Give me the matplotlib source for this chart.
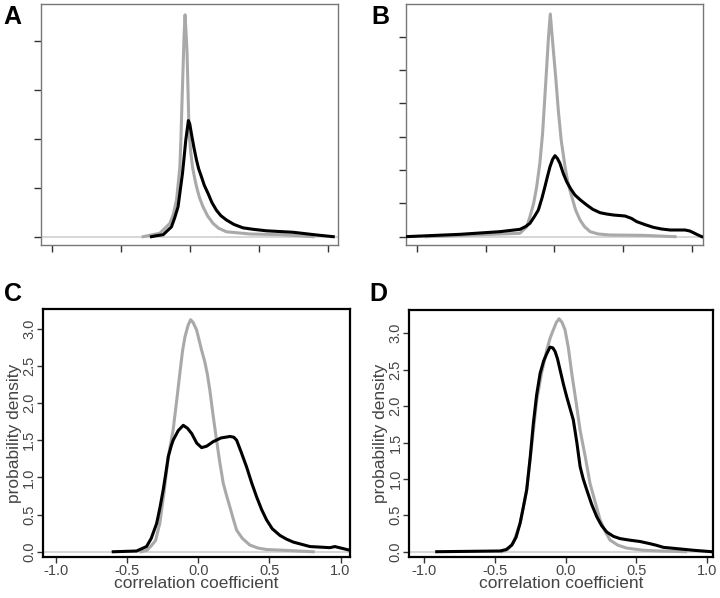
import matplotlib
matplotlib.use("Agg")
import matplotlib.pyplot as plt

plt.rcParams['font.family'] = ['Liberation Sans', 'DejaVu Sans']

# panel A (y in tick units, no labels shown)
a_gray_x = [-0.338, -0.217, -0.145, -0.12, -0.096, -0.085, -0.072, -0.064, -0.056, -0.048,
            -0.041, -0.034, -0.020, -0.012, -0.005, 0.008, 0.020, 0.035, 0.049, 0.07,
            0.096, 0.13, 0.169, 0.21, 0.266, 0.435, 0.676, 0.893]
a_gray_y = [0.0, 0.07, 0.27, 0.45, 0.75, 1.05, 1.42, 2.0, 2.78, 3.5,
            4.13, 4.53, 3.79, 2.9, 2.1, 1.7, 1.42, 1.2, 1.02, 0.8,
            0.61, 0.42, 0.27, 0.17, 0.10, 0.055, 0.04, 0.0]
a_black_x = [-0.278, -0.24, -0.193, -0.133, -0.11, -0.085, -0.069, -0.053, -0.04, -0.029,
             -0.018, -0.010, 0.0, 0.012, 0.03, 0.049, 0.065, 0.085, 0.105, 0.133,
             0.16, 0.193, 0.225, 0.266, 0.32, 0.386, 0.46, 0.556, 0.749, 0.918, 1.04]
a_black_y = [0.0, 0.02, 0.04, 0.20, 0.38, 0.61, 0.95, 1.29, 1.65, 1.97,
             2.2, 2.37, 2.3, 2.10, 1.82, 1.56, 1.38, 1.22, 1.05, 0.88,
             0.7, 0.54, 0.43, 0.34, 0.25, 0.18, 0.15, 0.12, 0.09, 0.035, 0.0]

# panel B
b_gray_x = [-0.93, -0.25, -0.2, -0.177, -0.15, -0.128, -0.105, -0.085, -0.07, -0.055,
            -0.042, -0.029, -0.007, 0.01, 0.029, 0.05, 0.078, 0.1, 0.127, 0.155,
            0.187, 0.22, 0.26, 0.32, 0.405, 0.647, 0.878]
b_gray_y = [0.0, 0.10, 0.3, 0.6, 1.0, 1.5, 2.2, 3.1, 4.1, 5.1,
            6.0, 6.68, 5.6, 4.8, 3.8, 2.9, 2.1, 1.6, 1.2, 0.8,
            0.5, 0.3, 0.15, 0.08, 0.05, 0.04, 0.0]
b_black_x = [-1.08, -0.686, -0.395, -0.25, -0.21, -0.177, -0.145, -0.116, -0.09, -0.068,
             -0.05, -0.031, -0.012, 0.005, 0.022, 0.041, 0.065, 0.09, 0.12, 0.15,
             0.19, 0.236, 0.28, 0.332, 0.38, 0.429, 0.514, 0.56, 0.60, 0.66,
             0.72, 0.78, 0.842, 0.9, 0.95, 0.985, 1.011, 1.04, 1.072]
b_black_y = [0.0, 0.07, 0.15, 0.22, 0.3, 0.40, 0.6, 0.80, 1.15, 1.50,
             1.8, 2.10, 2.32, 2.43, 2.35, 2.20, 1.9, 1.65, 1.43, 1.25,
             1.1, 0.95, 0.82, 0.72, 0.68, 0.65, 0.62, 0.55, 0.45, 0.36,
             0.28, 0.23, 0.20, 0.2, 0.20, 0.17, 0.12, 0.06, 0.0]

# panel C
c_gray_x = [-0.40, -0.36, -0.33, -0.30, -0.27, -0.24, -0.21, -0.176, -0.15, -0.129,
            -0.11, -0.093, -0.07, -0.053, -0.035, -0.011, 0.024, 0.047, 0.065, 0.082,
            0.105, 0.129, 0.152, 0.176, 0.2, 0.223, 0.245, 0.27, 0.31, 0.363,
            0.42, 0.48, 0.6, 0.808]
c_gray_y = [0.0, 0.02, 0.08, 0.15, 0.38, 0.8, 1.28, 1.64, 2.05, 2.40,
            2.7, 2.89, 3.05, 3.12, 3.08, 2.98, 2.71, 2.55, 2.38, 2.17,
            1.83, 1.50, 1.2, 0.92, 0.75, 0.60, 0.45, 0.29, 0.18, 0.09,
            0.05, 0.03, 0.02, 0.0]
c_black_x = [-0.597, -0.433, -0.363, -0.33, -0.292, -0.268, -0.246, -0.228, -0.21, -0.19,
             -0.176, -0.14, -0.105, -0.075, -0.046, -0.01, 0.024, 0.06, 0.105, 0.16,
             0.223, 0.25, 0.27, 0.3, 0.34, 0.375, 0.41, 0.445, 0.48, 0.52,
             0.574, 0.62, 0.668, 0.785, 0.926, 0.96, 1.066]
c_black_y = [0.0, 0.01, 0.07, 0.18, 0.38, 0.6, 0.83, 1.05, 1.28, 1.42,
             1.50, 1.63, 1.70, 1.66, 1.59, 1.46, 1.40, 1.42, 1.48, 1.53,
             1.55, 1.54, 1.50, 1.35, 1.14, 0.93, 0.74, 0.57, 0.43, 0.31,
             0.22, 0.17, 0.13, 0.07, 0.055, 0.07, 0.02]

# panel D
d_gray_x = [-0.45, -0.41, -0.37, -0.32, -0.275, -0.24, -0.204, -0.17, -0.133, -0.11,
            -0.086, -0.065, -0.046, -0.025, -0.004, 0.02, 0.044, 0.075, 0.103, 0.14,
            0.173, 0.21, 0.244, 0.28, 0.315, 0.37, 0.433, 0.55, 0.67, 0.85]
d_gray_y = [0.0, 0.03, 0.12, 0.4, 0.85, 1.45, 2.08, 2.45, 2.77, 2.93,
            3.05, 3.15, 3.20, 3.15, 3.05, 2.8, 2.45, 2.05, 1.67, 1.3,
            0.94, 0.68, 0.44, 0.28, 0.16, 0.09, 0.05, 0.02, 0.01, 0.0]
d_black_x = [-0.912, -0.464, -0.42, -0.381, -0.35, -0.322, -0.3, -0.275, -0.25, -0.228,
             -0.205, -0.18, -0.155, -0.133, -0.11, -0.09, -0.074, -0.057, -0.039, -0.015,
             0.008, 0.03, 0.055, 0.08, 0.103, 0.125, 0.15, 0.185, 0.221, 0.255,
             0.292, 0.34, 0.386, 0.45, 0.528, 0.598, 0.64, 0.693, 0.8, 0.905, 1.035]
d_black_y = [0.0, 0.01, 0.03, 0.09, 0.2, 0.39, 0.6, 0.85, 1.3, 1.76,
             2.15, 2.45, 2.62, 2.72, 2.81, 2.8, 2.75, 2.65, 2.50, 2.3,
             2.13, 1.98, 1.81, 1.5, 1.17, 1.0, 0.85, 0.65, 0.48, 0.36,
             0.27, 0.21, 0.18, 0.16, 0.14, 0.11, 0.09, 0.06, 0.04, 0.02, 0.0]

xticks = [-1.0, -0.5, 0.0, 0.5, 1.0]
yticks_cd = [0.0, 0.5, 1.0, 1.5, 2.0, 2.5, 3.0]

fig = plt.figure(figsize=(7.2, 5.98), dpi=100)
axA = fig.add_axes([0.057, 0.5903, 0.412, 0.403])
axB = fig.add_axes([0.5635, 0.5903, 0.4125, 0.403])
axC = fig.add_axes([0.060, 0.069, 0.426, 0.4138])
axD = fig.add_axes([0.5685, 0.069, 0.4214, 0.4126])

GRAY = '#a9a9a9'
panels = [
    (axA, a_gray_x, a_gray_y, a_black_x, a_black_y, (-1.078, 1.072), (-0.17, 4.75), [0, 1, 2, 3, 4]),
    (axB, b_gray_x, b_gray_y, b_black_x, b_black_y, (-1.08, 1.079), (-0.25, 6.98), [0, 1, 2, 3, 4, 5, 6]),
    (axC, c_gray_x, c_gray_y, c_black_x, c_black_y, (-1.089, 1.066), (-0.067, 3.26), yticks_cd),
    (axD, d_gray_x, d_gray_y, d_black_x, d_black_y, (-1.106, 1.042), (-0.069, 3.32), yticks_cd),
]

for i, (ax, gx, gy, bx, by, xl, yl, yt) in enumerate(panels):
    ax.axhline(0, color='#cfcfcf', lw=1.2, zorder=1)
    ax.plot(gx, gy, color=GRAY, lw=2.2, zorder=2, solid_joinstyle='round')
    ax.plot(bx, by, color='black', lw=2.2, zorder=3, solid_joinstyle='round')
    ax.set_xlim(*xl)
    ax.set_ylim(*yl)
    ax.set_xticks(xticks)
    ax.set_yticks(yt)
    if i < 2:
        for s in ax.spines.values():
            s.set_color('#777777')
            s.set_linewidth(1.0)
        ax.tick_params(length=5, width=1, color='#333333', labelbottom=False, labelleft=False)
    else:
        for s in ax.spines.values():
            s.set_color('black')
            s.set_linewidth(1.6)
        ax.tick_params(length=4, width=1, color='#333333', labelsize=10.5,
                       labelcolor='#444444', pad=1)
        ax.set_xticklabels(['%.1f' % v for v in xticks])
        ax.set_yticklabels(['%.1f' % v for v in yt], rotation=90, va='center')
        ax.set_xlabel('correlation coefficient', fontsize=12.5, color='#444444', labelpad=-1)
        ax.set_ylabel('probability density', fontsize=12.5, color='#444444', labelpad=0)

fig.text(0.005, 0.972, 'A', fontsize=18, fontweight='bold', va='center', ha='left')
fig.text(0.516, 0.972, 'B', fontsize=18, fontweight='bold', va='center', ha='left')
fig.text(0.005, 0.508, 'C', fontsize=18, fontweight='bold', va='center', ha='left')
fig.text(0.513, 0.508, 'D', fontsize=18, fontweight='bold', va='center', ha='left')

fig.savefig('out.png', dpi=100)
